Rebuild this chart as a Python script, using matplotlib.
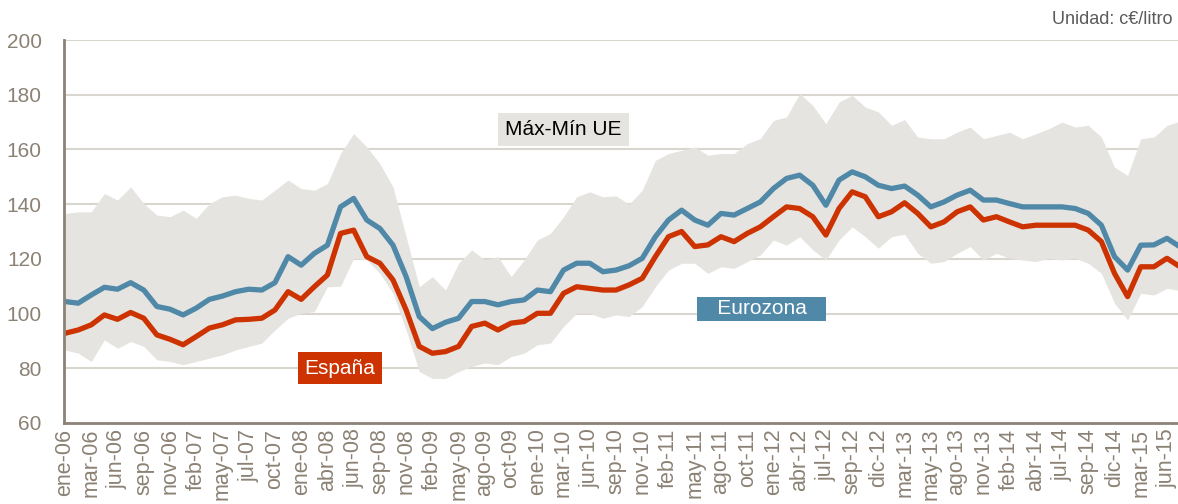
import numpy as np
import matplotlib
matplotlib.use('Agg')
import matplotlib.pyplot as plt

plt.rcParams['font.family'] = ['Liberation Sans', 'DejaVu Sans']

# etiquetas del eje de categorías (una cada ~11 semanas)
etiquetas = ['ene-06', 'mar-06', 'jun-06', 'sep-06', 'nov-06', 'feb-07', 'may-07',
             'jul-07', 'oct-07', 'ene-08', 'abr-08', 'jun-08', 'sep-08', 'nov-08',
             'feb-09', 'may-09', 'ago-09', 'oct-09', 'ene-10', 'mar-10', 'jun-10',
             'sep-10', 'nov-10', 'feb-11', 'may-11', 'ago-11', 'oct-11', 'ene-12',
             'abr-12', 'jul-12', 'sep-12', 'dic-12', 'mar-13', 'may-13', 'ago-13',
             'nov-13', 'feb-14', 'abr-14', 'jul-14', 'sep-14', 'dic-14', 'mar-15',
             'jun-15']

# precio semanal muestreado cada media etiqueta (c€/litro)
espana = [92.8, 94.0, 95.9, 99.5, 97.9, 100.4, 98.3, 92.2, 90.6, 88.6,
          91.6, 94.7, 95.9, 97.7, 97.9, 98.3, 101.3, 108.0, 105.2, 109.8,
          114.1, 129.3, 130.5, 120.8, 118.4, 112.3, 101.3, 88.0, 85.5, 86.1,
          88.0, 95.3, 96.5, 94.0, 96.5, 97.1, 100.1, 100.1, 107.4, 109.8,
          109.2, 108.6, 108.6, 110.5, 112.9, 120.8, 128.1, 130.0, 124.5, 125.1,
          128.1, 126.3, 129.3, 131.7, 135.4, 139.0, 138.4, 135.4, 128.7, 138.4,
          144.5, 142.7, 135.4, 137.2, 140.5, 136.6, 131.7, 133.5, 137.2, 139.0,
          134.2, 135.4, 133.5, 131.7, 132.3, 132.3, 132.3, 132.3, 130.5, 126.3,
          114.7, 106.2, 117.1, 117.1, 120.2, 117.7]

eurozona = [104.4, 103.8, 106.8, 109.6, 108.9, 111.3, 108.6, 102.6, 101.6, 99.5,
            102.0, 105.2, 106.4, 108.0, 108.9, 108.6, 111.3, 120.8, 117.7, 122.0,
            125.0, 139.0, 142.1, 134.2, 131.1, 125.0, 113.5, 98.9, 94.5, 96.8,
            98.3, 104.4, 104.4, 103.2, 104.4, 105.0, 108.6, 108.0, 115.9, 118.4,
            118.4, 115.3, 115.9, 117.5, 120.2, 128.1, 134.2, 137.8, 134.2, 132.3,
            136.6, 136.0, 138.4, 140.8, 145.7, 149.4, 150.6, 146.9, 139.6, 148.8,
            151.8, 150.0, 146.9, 145.7, 146.6, 143.3, 139.0, 140.8, 143.3, 145.1,
            141.5, 141.5, 140.2, 139.0, 139.0, 139.0, 139.0, 138.4, 136.6, 132.3,
            120.8, 115.9, 125.0, 125.1, 127.5, 125.0]

ue_max = [136.6, 137.2, 137.2, 143.9, 141.5, 146.3, 140.2, 136.0, 135.4, 137.8,
          134.8, 140.2, 142.7, 143.3, 142.1, 141.5, 145.1, 148.8, 145.7, 145.1,
          147.5, 158.5, 165.8, 160.9, 154.8, 146.3, 128.1, 109.8, 113.5, 108.6,
          118.4, 123.3, 119.6, 120.8, 113.5, 119.6, 126.9, 129.3, 135.4, 142.7,
          144.5, 142.7, 143.0, 140.0, 145.1, 156.0, 158.5, 159.7, 160.9, 157.9,
          158.5, 158.5, 162.1, 164.0, 170.6, 171.9, 180.4, 176.1, 169.4, 177.3,
          179.8, 175.5, 173.7, 168.8, 170.9, 164.5, 163.9, 163.9, 166.3, 168.2,
          163.9, 165.1, 166.3, 163.9, 165.7, 167.6, 170.0, 168.2, 168.8, 164.5,
          153.5, 150.5, 163.9, 164.5, 168.8, 170.0]

ue_min = [86.7, 85.5, 82.5, 90.4, 87.3, 89.8, 88.0, 83.1, 82.5, 81.3,
          82.5, 83.7, 84.9, 86.7, 88.0, 89.2, 94.0, 98.3, 100.1, 100.7,
          109.8, 110.0, 120.2, 119.6, 114.7, 107.4, 94.0, 78.8, 76.3, 76.3,
          78.8, 80.7, 81.9, 81.3, 84.3, 85.5, 88.6, 89.2, 95.3, 100.1,
          100.1, 98.3, 99.5, 98.9, 102.6, 109.8, 115.9, 118.4, 118.4, 114.7,
          117.1, 116.5, 119.0, 121.4, 126.9, 125.0, 128.1, 123.3, 119.6, 126.9,
          131.7, 128.1, 123.9, 128.1, 129.0, 122.0, 118.4, 119.0, 122.0, 124.5,
          119.6, 122.0, 120.2, 119.6, 119.0, 120.2, 119.6, 120.2, 118.4, 114.7,
          103.8, 97.7, 107.4, 106.8, 109.2, 108.6]

# posición de cada muestra en unidades de etiqueta (la última semana va algo más allá de jun-15)
x = np.append(np.arange(len(espana) - 1) / 2.0, 42.4)

ROJO = '#cc3300'
AZUL = '#5088a8'
BANDA = '#e6e4e0'
GRIS = '#8b8174'

fig = plt.figure(figsize=(11.78, 5.04), dpi=100)
ax = fig.add_axes([64 / 1178, 1 - 423 / 504, 1 - 64 / 1178, (423 - 40) / 504])

ax.fill_between(x, ue_min, ue_max, color=BANDA, lw=0, zorder=1)
ax.plot(x, eurozona, color=AZUL, lw=3.8, solid_joinstyle='round', zorder=3)
ax.plot(x, espana, color=ROJO, lw=3.8, solid_joinstyle='round', zorder=4)

ax.set_ylim(60, 200)
ax.set_yticks(range(60, 201, 20))
ax.set_xlim(-0.04, 42.42)
ax.set_xticks(range(len(etiquetas)))
ax.set_xticklabels(etiquetas, rotation=90)
ax.tick_params(axis='both', length=0, colors=GRIS)
ax.tick_params(axis='x', pad=4, labelsize=15.5)
ax.tick_params(axis='y', pad=16, labelsize=15)

for v in range(80, 201, 20):
    ax.axhline(v, color='#d9d5cf', lw=1.5, zorder=0)

for s in ['top', 'right']:
    ax.spines[s].set_visible(False)
for s in ['left', 'bottom']:
    ax.spines[s].set_color('#8c8275')
    ax.spines[s].set_linewidth(2)
    ax.spines[s].set_zorder(5)

# etiquetas de serie en cajas
ax.text(10.48, 80.0, 'España', color='white', fontsize=15, ha='center', va='center',
        bbox=dict(boxstyle='square,pad=0.32', fc=ROJO, ec='none'), zorder=6)
ax.text(26.55, 101.8, '   Eurozona   ', color='white', fontsize=15, ha='center', va='center',
        bbox=dict(boxstyle='square,pad=0.12', fc=AZUL, ec='none'), zorder=6)
ax.text(19.0, 167.3, 'Máx-Mín UE', color='black', fontsize=15, ha='center', va='center',
        bbox=dict(boxstyle='square,pad=0.35', fc=BANDA, ec='none'), zorder=6)

fig.text(1172 / 1178, 1 - 19 / 504, 'Unidad: c€/litro', color='#5a5a5a', fontsize=13,
         ha='right', va='center')

fig.savefig('out.png', dpi=100)
